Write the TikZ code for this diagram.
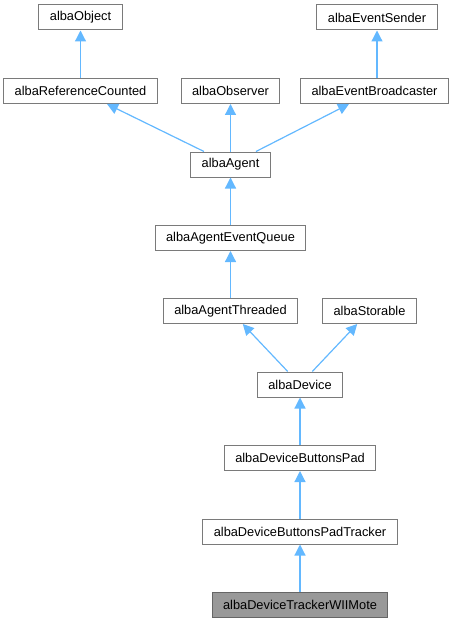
\documentclass[tikz,border=0pt]{standalone}
\usepackage{fontspec}
\setmainfont{Liberation Sans}
\usetikzlibrary{arrows.meta}

\definecolor{edgeblue}{HTML}{63B8FF}
\definecolor{boxgray}{HTML}{7A7A7A}
\definecolor{hilite}{HTML}{999999}
\definecolor{hiliteborder}{HTML}{666666}

\begin{document}
\begin{tikzpicture}[x=1pt,y=-1pt,
  cls/.style={draw=boxgray, fill=white, line width=1pt, minimum height=25pt,
    inner xsep=11pt, inner ysep=0pt, font=\fontsize{12.8}{15}\selectfont},
  current/.style={cls, fill=hilite, draw=hiliteborder},
  inherit/.style={draw=edgeblue, line width=1.2pt,
    -{Triangle[width=11pt,length=11pt]}}]

\useasboundingbox (0,0) rectangle (457,623);

% Class boxes
\node[cls] (object)      at (80.5,17.5)  {albaObject};
\node[cls] (sender)      at (377,17.5)   {albaEventSender};
\node[cls] (refcounted)  at (80.5,91)    {albaReferenceCounted};
\node[cls] (observer)    at (230.5,91)   {albaObserver};
\node[cls] (broadcaster) at (374.5,91)   {albaEventBroadcaster};
\node[cls] (agent)       at (230.5,164.5){albaAgent};
\node[cls] (queue)       at (230.5,238)  {albaAgentEventQueue};
\node[cls] (threaded)    at (230.5,311)  {albaAgentThreaded};
\node[cls] (storable)    at (369.5,311)  {albaStorable};
\node[cls] (device)      at (300,384.5)  {albaDevice};
\node[cls] (pad)         at (300,458)    {albaDeviceButtonsPad};
\node[cls] (padtracker)  at (300,531.5)  {albaDeviceButtonsPadTracker};
\node[current] (wiimote) at (300,604.5)  {albaDeviceTrackerWIIMote};

% Inheritance edges
\draw[inherit] (refcounted) -- (object);
\draw[inherit] (broadcaster.north -| sender) -- (sender);
\draw[inherit] (agent) -- (refcounted);
\draw[inherit] (agent) -- (observer);
\draw[inherit] (agent) -- (broadcaster);
\draw[inherit] (queue) -- (agent);
\draw[inherit] (threaded) -- (queue);
\draw[inherit] (device) -- (threaded);
\draw[inherit] (device) -- (storable);
\draw[inherit] (pad) -- (device);
\draw[inherit] (padtracker) -- (pad);
\draw[inherit] (wiimote) -- (padtracker);

\end{tikzpicture}
\end{document}
